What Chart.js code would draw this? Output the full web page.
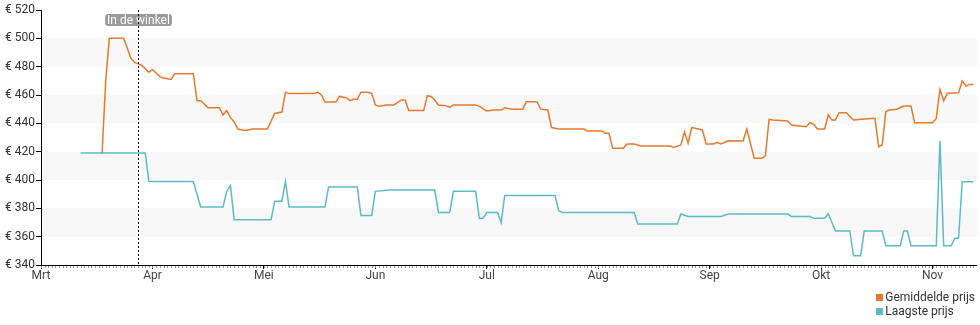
<!DOCTYPE html>
<html lang="nl">
<head>
    <meta charset="UTF-8">
    <title>Prijsverloop</title>
    <script src="https://cdn.jsdelivr.net/npm/chart.js"></script>
    <style>
        body { margin: 0; background: #fff; font-family: Roboto, sans-serif; }
        .wrap { position: relative; width: 980px; height: 325px; }
        .legend { position: absolute; right: 5px; top: 290px; font-size: 12px; color: #333; line-height: 14px; }
        .legend span { display: inline-block; width: 7px; height: 7px; margin-right: 2px; }
    </style>
</head>
<body>
<div class="wrap">
    <canvas id="prijsChart" width="980" height="325"></canvas>
    <div class="legend">
        <div><span style="background:#e8792d"></span>Gemiddelde prijs</div>
        <div><span style="background:#5bbcc6"></span>Laagste prijs</div>
    </div>
</div>
<script>
    const months = ['Mrt', 'Apr', 'Mei', 'Jun', 'Jul', 'Aug', 'Sep', 'Okt', 'Nov'];
    const monthDays = [31, 30, 31, 30, 31, 31, 30, 31, 30];
    const yTicks = [340, 360, 380, 400, 420, 440, 460, 480, 500, 520];

    const avgDates = ['03-18','03-19','03-20','03-24','03-26','03-27','03-28','03-29','03-31','04-01','04-03','04-04','04-06','04-07','04-12','04-13','04-14','04-16','04-19','04-20','04-21','04-22','04-23','04-24','04-26','04-28','05-02','05-04','05-06','05-07','05-08','05-15','05-16','05-17','05-18','05-21','05-22','05-24','05-25','05-26','05-27','05-28','05-30','05-31','06-01','06-02','06-04','06-06','06-08','06-09','06-10','06-14','06-15','06-16','06-17','06-18','06-20','06-21','06-22','06-28','06-29','07-01','07-03','07-05','07-06','07-08','07-11','07-12','07-15','07-16','07-18','07-19','07-21','07-28','07-29','08-02','08-03','08-04','08-05','08-08','08-09','08-11','08-13','08-21','08-22','08-24','08-25','08-26','08-27','08-28','08-29','08-30','08-31','09-02','09-03','09-04','09-06','09-10','09-11','09-13','09-15','09-16','09-17','09-18','09-22','09-23','09-27','09-28','09-29','09-30','10-02','10-03','10-04','10-05','10-06','10-08','10-10','10-12','10-16','10-17','10-18','10-19','10-20','10-22','10-24','10-26','10-27','11-01','11-02','11-03','11-04','11-05','11-08','11-09','11-10','11-11','11-12'];
    const avgPrices = [419,470,500,500,486,483,482,481,476,478,473,472,471,475,475,456,456,451,451,446,449,444,441,436,435,436,436,447,448,462,461,461,462,460,455,455,459,458,456,457,457,462,462,461,453,452,453,453,456.5,456.5,449,449,459.5,459,456.5,453,452.5,451.3,453,453,452,448.7,449.4,449.4,451,450,450,455.3,455.3,450,449.4,437,436,436,434.6,434.6,433,433,422.4,422.4,425.4,425.4,424,424,423,424.7,434,426,437,436.5,435.8,435.3,425.4,425.4,426.6,425.4,427.7,427.5,436,415.3,415.3,417,442.8,442.3,441.6,438.8,437.6,440.5,439.3,436,436,446,442.3,442.3,447.5,447.5,442.3,442.8,443.5,423.5,424.7,448.2,449.4,450,452.2,452.2,440.5,440.5,443.5,464,455.8,461.2,461.6,470,466.3,467.5,467.5];

    const lowDates = ['03-12','03-30','03-31','04-12','04-14','04-20','04-21','04-22','04-23','05-03','05-04','05-06','05-07','05-08','05-18','05-19','05-27','05-28','05-31','06-01','06-05','06-17','06-18','06-21','06-22','06-28','06-29','06-30','07-01','07-04','07-05','07-06','07-20','07-21','07-22','08-11','08-12','08-23','08-24','08-26','09-04','09-06','09-22','09-23','09-28','09-29','10-02','10-03','10-05','10-09','10-10','10-12','10-13','10-18','10-19','10-23','10-24','10-25','10-26','11-02','11-03','11-04','11-06','11-07','11-08','11-09','11-12'];
    const lowPrices = [419,419,399,399,381,381,392,396,372,372,385,385,399,381,381,395,395,375,375,392,393,393,377,377,392,392,373,373,377,377,370,389,389,378.3,377,377,369,369,376,374.3,374.3,376,376,374.3,374.3,373,373,376,364,364,346.6,346.6,364,364,353.6,353.6,364,364,353.6,353.6,427.7,353.6,353.6,358.8,358.8,398.8,398.8];

    const storeDate = '03-28';

    // datum 'MM-DD' -> positie op de as (elke maand even breed)
    function pos(md) {
        const [m, d] = md.split('-').map(Number);
        const i = m - 3;
        return i + (d - 1) / monthDays[i];
    }

    const toPoints = (dates, values) => dates.map((d, i) => ({ x: pos(d), y: values[i] }));

    // lichtgrijze banden achter de lijnen
    const bands = {
        id: 'bands',
        beforeDatasetsDraw(chart) {
            const { ctx, chartArea, scales: { y } } = chart;
            ctx.save();
            ctx.fillStyle = '#f8f8f8';
            for (let v = 360; v < 520; v += 40) {
                const top = y.getPixelForValue(v + 20);
                const bottom = y.getPixelForValue(v);
                ctx.fillRect(chartArea.left + 1, top, chartArea.right - chartArea.left, bottom - top);
            }
            ctx.restore();
        }
    };

    // kleine streepjes per dag onder de x-as
    const dayTicks = {
        id: 'dayTicks',
        afterDraw(chart) {
            const { ctx, chartArea, scales: { x } } = chart;
            ctx.save();
            ctx.strokeStyle = '#999';
            ctx.lineWidth = 1;
            ctx.beginPath();
            monthDays.forEach((len, i) => {
                for (let d = 0; d < len; d++) {
                    const px = Math.round(x.getPixelForValue(i + d / len)) + 0.5;
                    if (px > chartArea.right) return;
                    ctx.moveTo(px, chartArea.bottom + 1);
                    ctx.lineTo(px, chartArea.bottom + 3);
                }
            });
            ctx.stroke();
            ctx.restore();
        }
    };

    // markering "In de winkel"
    const storeMarker = {
        id: 'storeMarker',
        afterDatasetsDraw(chart) {
            const { ctx, chartArea, scales: { x } } = chart;
            const px = Math.round(x.getPixelForValue(pos(storeDate))) + 0.5;
            ctx.save();
            ctx.font = '12px Roboto';
            const label = 'In de winkel';
            const w = ctx.measureText(label).width + 4;
            ctx.fillStyle = '#9a9a9a';
            ctx.beginPath();
            ctx.roundRect(px - w / 2, 14, w, 12, 3);
            ctx.fill();
            ctx.fillStyle = '#fff';
            ctx.textAlign = 'center';
            ctx.textBaseline = 'middle';
            ctx.fillText(label, px, 20.5);
            ctx.strokeStyle = '#000';
            ctx.lineWidth = 1;
            ctx.setLineDash([2, 2]);
            ctx.beginPath();
            ctx.moveTo(px, chartArea.top);
            ctx.lineTo(px, chartArea.bottom);
            ctx.stroke();
            ctx.restore();
        }
    };

    new Chart(document.getElementById('prijsChart'), {
        type: 'line',
        data: {
            datasets: [{
                label: 'Gemiddelde prijs',
                data: toPoints(avgDates, avgPrices),
                borderColor: '#e8792d',
                borderWidth: 1.5,
                pointRadius: 0,
                tension: 0
            }, {
                label: 'Laagste prijs',
                data: toPoints(lowDates, lowPrices),
                borderColor: '#5bbcc6',
                borderWidth: 1.5,
                pointRadius: 0,
                tension: 0
            }]
        },
        options: {
            responsive: false,
            animation: false,
            layout: { padding: { top: 10, right: 4, left: 0, bottom: 0 } },
            plugins: { legend: { display: false }, tooltip: { enabled: false } },
            scales: {
                x: {
                    type: 'linear',
                    min: 0,
                    max: 8.39,
                    afterFit: s => { s.height = 60; },
                    afterBuildTicks: s => { s.ticks = months.map((m, i) => ({ value: i })); },
                    ticks: {
                        callback: v => months[v],
                        font: { family: 'Roboto', size: 12 },
                        color: '#444',
                        padding: 0,
                        maxRotation: 0,
                        autoSkip: false
                    },
                    grid: { drawOnChartArea: false, tickLength: 4, color: '#000' },
                    border: { color: '#000', width: 1 }
                },
                y: {
                    min: 340,
                    max: 520,
                    afterFit: s => { s.width = 41; },
                    afterBuildTicks: s => { s.ticks = yTicks.map(v => ({ value: v })); },
                    ticks: {
                        callback: v => '€ ' + v,
                        font: { family: 'Roboto', size: 12 },
                        color: '#333',
                        padding: 1
                    },
                    grid: { drawOnChartArea: false, tickLength: 5, color: '#000' },
                    border: { color: '#000', width: 1 }
                }
            }
        },
        plugins: [bands, dayTicks, storeMarker]
    });
</script>
</body>
</html>
